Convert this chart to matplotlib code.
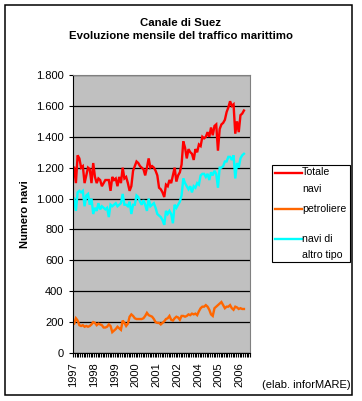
import matplotlib
matplotlib.use("Agg")
import matplotlib.pyplot as plt
from matplotlib.lines import Line2D
from matplotlib.patches import Rectangle
from matplotlib.ticker import FixedLocator, FuncFormatter, MultipleLocator

plt.rcParams['font.family'] = ['Liberation Sans', 'DejaVu Sans']

year_labels = ["1997", "1998", "1999", "2000", "2001", "2002", "2004", "2005", "2006"]
n_categories = 102

totale = [1200, 1100, 1280, 1260, 1200, 1210, 1100, 1150, 1200, 1190, 1100, 1230,
          1140, 1100, 1130, 1120, 1080, 1100, 1120, 1120, 1120, 1050, 1140, 1120,
          1130, 1080, 1140, 1100, 1200, 1130, 1140, 1100, 1050, 1080, 1180, 1210,
          1240, 1230, 1210, 1200, 1190, 1150, 1200, 1260, 1200, 1210, 1200, 1180,
          1150, 1070, 1060, 1040, 1010, 1090, 1080, 1120, 1100, 1150, 1200, 1110,
          1150, 1170, 1220, 1370, 1330, 1260, 1320, 1300, 1290, 1250, 1320, 1300,
          1350, 1340, 1400, 1390, 1400, 1430, 1400, 1460, 1410, 1470, 1480, 1310,
          1450, 1480, 1490, 1510, 1560, 1590, 1630, 1600, 1610, 1420, 1500, 1430,
          1540, 1550, 1570]

petroliere = [190, 225, 210, 180, 175, 180, 170, 175, 170, 175, 185, 200,
              195, 180, 190, 185, 180, 165, 165, 170, 185, 175, 135, 145,
              155, 170, 160, 150, 210, 195, 175, 190, 235, 250, 240, 225,
              220, 220, 220, 220, 225, 240, 260, 245, 240, 235, 220, 200,
              195, 195, 185, 195, 205, 220, 225, 240, 215, 210, 225, 235,
              230, 215, 240, 240, 235, 240, 250, 245, 255, 250, 255, 245,
              270, 290, 300, 300, 310, 300, 280, 250, 240, 290, 300, 310,
              320, 330, 310, 290, 300, 300, 310, 290, 280, 300, 295, 285,
              290, 285, 285]

altro_tipo = [1000, 920, 1040, 1050, 1040, 1050, 950, 1020, 1030, 960, 1000, 900,
              940, 920, 970, 930, 950, 940, 930, 940, 880, 960, 950, 960,
              970, 950, 960, 970, 1030, 960, 960, 950, 980, 900, 960, 960,
              1020, 1010, 980, 960, 990, 960, 920, 1000, 950, 960, 970, 940,
              900, 890, 880, 860, 830, 920, 900, 920, 900, 840, 960, 940,
              960, 980, 1020, 1130, 1100, 1080, 1060, 1080, 1040, 1080, 1070, 1100,
              1090, 1150, 1160, 1160, 1140, 1160, 1120, 1170, 1150, 1180, 1160, 1070,
              1200, 1200, 1210, 1240, 1240, 1270, 1270, 1250, 1280, 1130, 1230, 1200,
              1260, 1280, 1290]

W, H = 362, 401
FS = 8
fig = plt.figure(figsize=(W / 100, H / 100), dpi=100)
fig.patch.set_facecolor('white')

ax = fig.add_axes([73.3 / W, (H - 353) / H, (250 - 73.3) / W, (353 - 75) / H])
ax.set_facecolor('#C0C0C0')

xs = [i + 0.5 for i in range(len(totale))]
ax.plot(xs, totale, color='#FF0000', lw=1.7, solid_joinstyle='miter')
ax.plot(xs, petroliere, color='#FF6600', lw=1.7, solid_joinstyle='miter')
ax.plot(xs, altro_tipo, color='#00FFFF', lw=1.7, solid_joinstyle='miter')

ax.set_xlim(0, n_categories)
ax.set_ylim(0, 1800)
ax.yaxis.set_major_locator(MultipleLocator(200))
ax.yaxis.set_major_formatter(FuncFormatter(lambda v, p: f"{int(v):,}".replace(",", ".")))
ax.grid(axis='y', color='black', lw=0.9)
ax.set_axisbelow(True)

ax.xaxis.set_major_locator(FixedLocator([12 * i for i in range(len(year_labels))]))
ax.set_xticklabels(year_labels, rotation=90, fontsize=FS)
ax.xaxis.set_minor_locator(FixedLocator(list(range(n_categories + 1))))
ax.tick_params(axis='x', which='both', direction='out', length=3, width=0.8, pad=4)
ax.tick_params(axis='y', direction='out', length=3, width=0.8, pad=4, labelsize=FS)

for s in ['top', 'right']:
    ax.spines[s].set_color('#808080')
    ax.spines[s].set_linewidth(0.8)
for s in ['left', 'bottom']:
    ax.spines[s].set_color('black')
    ax.spines[s].set_linewidth(0.8)

fig.text(25 / W, 1 - 214 / H, "Numero navi", rotation=90, ha='center', va='center',
         fontsize=FS, fontweight='bold')

fig.text(0.5, 1 - 23 / H, "Canale di Suez", ha='center', va='center', fontsize=8.2, fontweight='bold')
fig.text(0.5, 1 - 36 / H, "Evoluzione mensile del traffico marittimo", ha='center', va='center',
         fontsize=8.2, fontweight='bold')

fig.text(351 / W, 1 - 385 / H, "(elab. inforMARE)", ha='right', va='center', fontsize=FS)

# outer border
fig.add_artist(Rectangle((5 / W, 1 - 395 / H), 347 / W, 390 / H, transform=fig.transFigure,
                         fill=False, edgecolor='black', lw=1.1))

# legend
fig.add_artist(Rectangle((271.7 / W, 1 - 262 / H), 78.8 / W, 97 / H, transform=fig.transFigure,
                         fill=False, edgecolor='black', lw=0.8))
legend_items = [("#FF0000", 173, [("Totale", 172), ("navi", 189)]),
                ("#FF6600", 209, [("petroliere", 209)]),
                ("#00FFFF", 239, [("navi di", 239), ("altro tipo", 255)])]
for color, ly, texts in legend_items:
    fig.add_artist(Line2D([275 / W, 301.5 / W], [1 - ly / H, 1 - ly / H], transform=fig.transFigure,
                          color=color, lw=1.7))
    for t, ty in texts:
        fig.text(302 / W, 1 - ty / H, t, ha='left', va='center', fontsize=7.6)

fig.savefig("out.png", dpi=100)
